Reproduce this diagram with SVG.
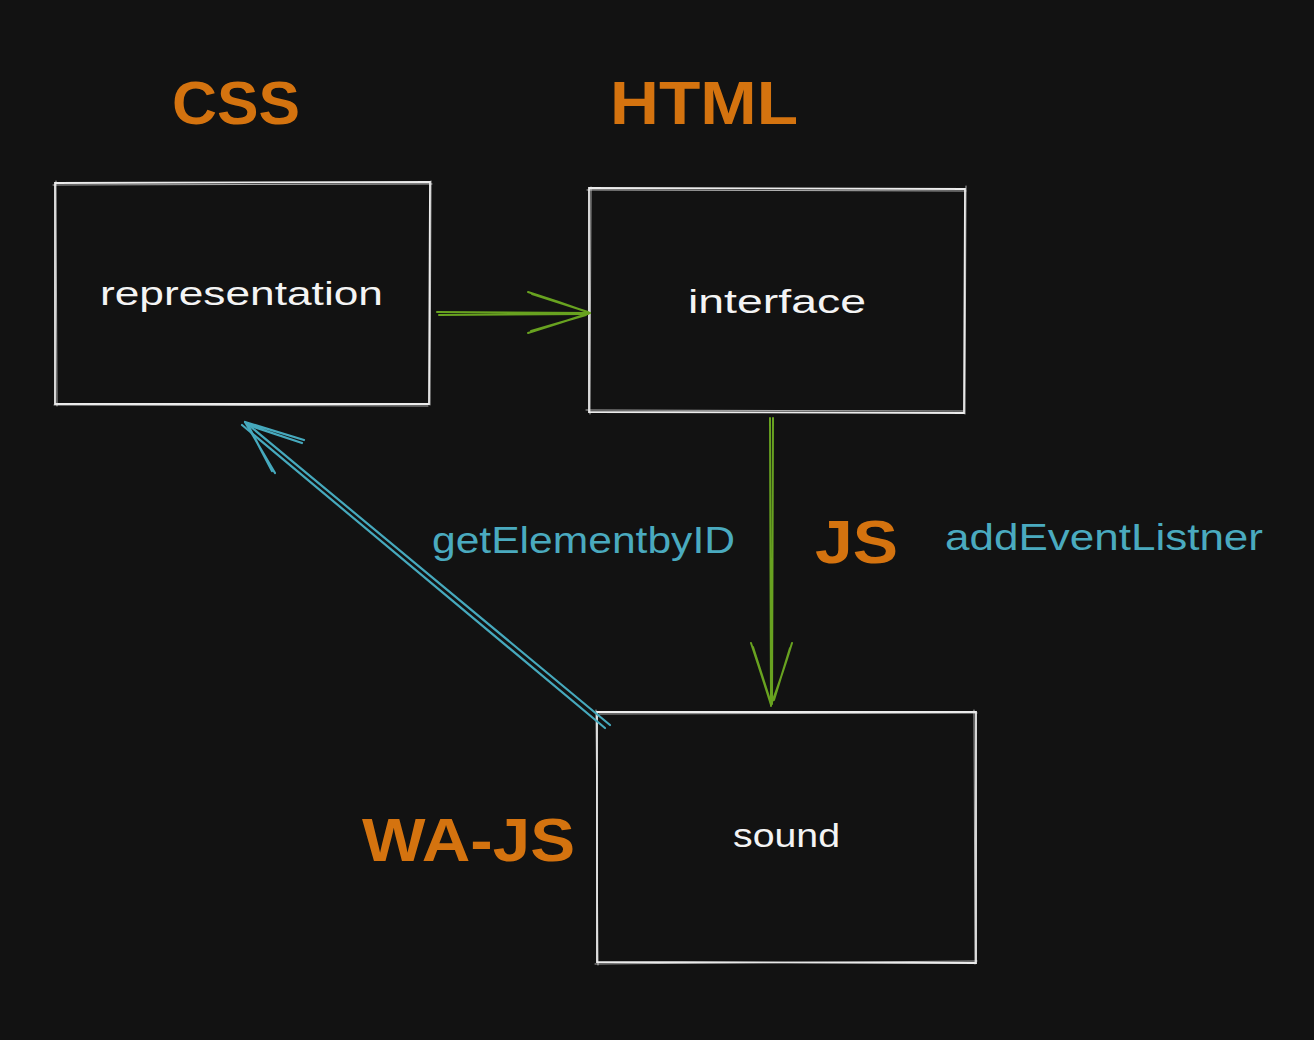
<svg xmlns="http://www.w3.org/2000/svg" width="1314" height="1040" viewBox="0 0 1314 1040">
<style>
.box{fill:none;stroke:#ececec;stroke-width:1.8;stroke-linecap:round}
.box2{fill:none;stroke:#e6e6e6;stroke-width:1;opacity:0.75;stroke-linecap:round}
.lbl{font-family:"Liberation Sans",Arial,sans-serif;fill:#f4f4f4;font-size:34px}
.tag{font-family:"Liberation Sans",Arial,sans-serif;fill:#d4730f;font-size:62px;font-weight:bold}
.api{font-family:"Liberation Sans",Arial,sans-serif;fill:#4aaabf;font-size:36px}
.g{fill:none;stroke:#68a220;stroke-width:2;stroke-linecap:round;stroke-linejoin:round}
.b{fill:none;stroke:#46a9bd;stroke-width:2.2;stroke-linecap:round;stroke-linejoin:round}
</style>
<rect width="1314" height="1040" fill="#121212"/>
<g id="tag-css"><text class="tag" x="172" y="124" textLength="128" lengthAdjust="spacingAndGlyphs">CSS</text></g>
<g id="tag-html"><text class="tag" x="610" y="124" textLength="188" lengthAdjust="spacingAndGlyphs">HTML</text></g>
<g id="tag-js"><text class="tag" x="815" y="563" textLength="83" lengthAdjust="spacingAndGlyphs">JS</text></g>
<g id="tag-wajs"><text class="tag" x="362" y="861" textLength="213" lengthAdjust="spacingAndGlyphs">WA-JS</text></g>
<g id="node-representation">
<path class="box" d="M55 183 L430 182 L429 404 L55 404 Z"/>
<path class="box2" d="M53 185 L432 184 M431 181 L430 405 M428 406 L54 405 M56 181 L57 406"/>
<text class="lbl" x="100" y="305" textLength="283" lengthAdjust="spacingAndGlyphs">representation</text>
</g>
<g id="node-interface">
<path class="box" d="M589 188 L965 189 L964 413 L589 412 Z"/>
<path class="box2" d="M587 190 L966 191 M966 186 L965 414 M963 411 L586 410 M591 187 L590 414"/>
<text class="lbl" x="688" y="313" textLength="178" lengthAdjust="spacingAndGlyphs">interface</text>
</g>
<g id="node-sound">
<path class="box" d="M597 712 L976 712 L976 963 L597 962 Z"/>
<path class="box2" d="M599 714 L977 713 M974 710 L975 964 M977 961 L595 964 M596 710 L598 965"/>
<text class="lbl" x="733" y="847" textLength="107" lengthAdjust="spacingAndGlyphs">sound</text>
</g>
<g id="connectors">
<path class="g" d="M437 312 L590 313 M439 315 L588 314"/>
<path class="g" d="M528 292 Q560 302 590 313 Q560 323 528 333 M532 294 L588 312 M531 331 L586 315"/>
<path class="g" d="M770 418 L771 706 M773 418 L772 704"/>
<path class="g" d="M751 643 Q762 676 771 705 Q782 676 792 643 M753 647 L770 700 M790 648 L774 700"/>
<path class="b" d="M610 725 L245 422 M605 728 L242 425"/>
<path class="b" d="M304 440 L245 422 L275 473 M302 443 L248 425 L272 471"/>
<text class="api" x="432" y="553" textLength="303" lengthAdjust="spacingAndGlyphs">getElementbyID</text>
<text class="api" x="945" y="550" textLength="318" lengthAdjust="spacingAndGlyphs">addEventListner</text>
</g>
</svg>
